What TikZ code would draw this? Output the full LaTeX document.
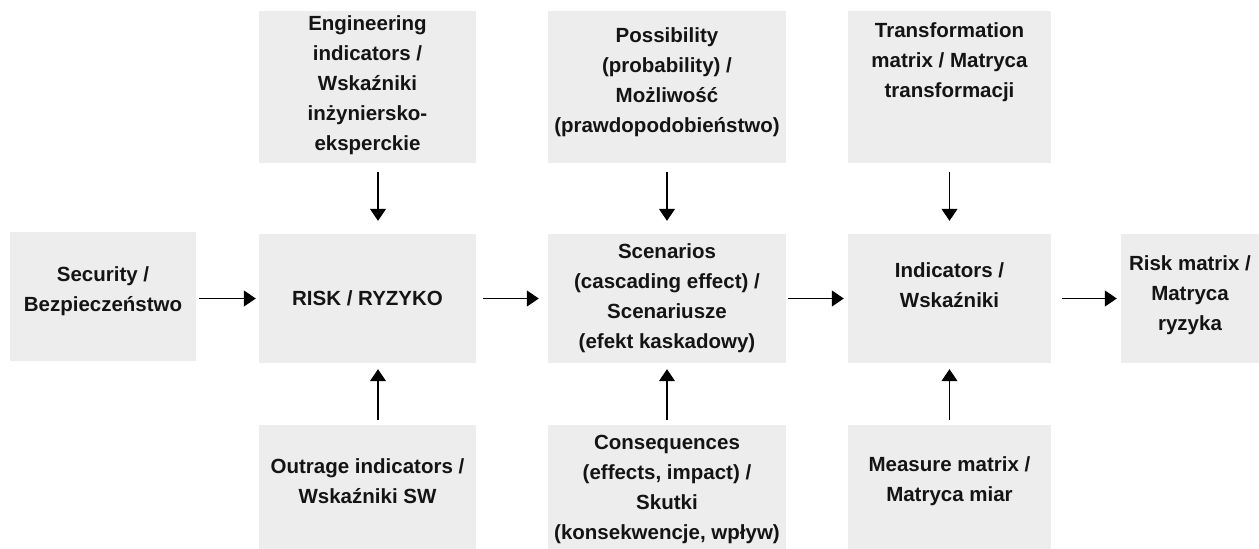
\documentclass[tikz,border=0pt]{standalone}
\usepackage{fontspec}
\setmainfont{Liberation Sans}
\usetikzlibrary{arrows.meta}
\definecolor{boxgray}{HTML}{EDEDED}
\definecolor{inkc}{HTML}{141414}
\tikzset{
  boxn/.style={fill=boxgray, draw=none, inner sep=0pt, rectangle},
  txt/.style={align=center, text=inkc, inner sep=0pt, font=\bfseries\fontsize{20.5}{30}\selectfont},
  arr/.style={-{Triangle[length=12pt,width=16pt]}, line width=1.1pt, draw=black}
}
\begin{document}
\begin{tikzpicture}[x=1pt,y=-1pt]
\useasboundingbox (0,0) rectangle (1259,549);
% boxes
\node[boxn, minimum width=186pt, minimum height=129pt] (sec) at (103,296.5) {};
\node[boxn, minimum width=217pt, minimum height=152pt] (eng) at (367.5,87) {};
\node[boxn, minimum width=217pt, minimum height=129pt] (risk) at (367.5,298.5) {};
\node[boxn, minimum width=217pt, minimum height=124pt] (out) at (367.5,487) {};
\node[boxn, minimum width=238pt, minimum height=152pt] (poss) at (667,87) {};
\node[boxn, minimum width=238pt, minimum height=129pt] (scen) at (667,298.5) {};
\node[boxn, minimum width=238pt, minimum height=124pt] (cons) at (667,487) {};
\node[boxn, minimum width=203pt, minimum height=152pt] (trans) at (949.5,87) {};
\node[boxn, minimum width=203pt, minimum height=129pt] (ind) at (949.5,298.5) {};
\node[boxn, minimum width=203pt, minimum height=124pt] (meas) at (949.5,487) {};
\node[boxn, minimum width=138pt, minimum height=129pt] (rm) at (1190,298.5) {};
% texts
\node[txt] (secT) at (103,291) {Security /\\Bezpieczeństwo};
\node[txt] (engT) at (367.5,85) {Engineering\\indicators /\\Wskaźniki\\inżyniersko-\\eksperckie};
\node[txt] (riskT) at (367.5,298) {RISK / RYZYKO};
\node[txt] (outT) at (367.5,481) {Outrage indicators /\\Wskaźniki SW};
\node[txt] (possT) at (667,82) {Possibility\\(probability) /\\Możliwość\\(prawdopodobieństwo)};
\node[txt] (scenT) at (667,298) {Scenarios\\(cascading effect) /\\Scenariusze\\(efekt kaskadowy)};
\node[txt] (consT) at (667,489) {Consequences\\(effects, impact) /\\Skutki\\(konsekwencje, wpływ)};
\node[txt] (transT) at (949.5,62) {Transformation\\matrix / Matryca\\transformacji};
\node[txt] (indT) at (949.5,285) {Indicators /\\Wskaźniki};
\node[txt] (measT) at (949.5,481) {Measure matrix /\\Matryca miar};
\node[txt] (rmT) at (1190,295) {Risk matrix /\\Matryca\\ryzyka};
% horizontal connectors
\draw[arr, shorten <=3pt, shorten >=3pt] (sec.east |- risk.east) -- (risk.west);
\draw[arr, shorten <=7pt, shorten >=9pt] (risk.east) -- (scen.west);
\draw[arr, shorten <=2pt, shorten >=4pt] (scen.east) -- (ind.west);
\draw[arr, shorten <=11pt, shorten >=4pt] (ind.east) -- (rm.west);
% vertical connectors
\draw[arr, shorten <=9pt, shorten >=13pt] ([xshift=10.5pt]eng.south) -- ([xshift=10.5pt]risk.north);
\draw[arr, shorten <=5pt, shorten >=6pt] ([xshift=10.5pt]out.north) -- ([xshift=10.5pt]risk.south);
\draw[arr, shorten <=9pt, shorten >=13pt] (poss.south) -- (scen.north);
\draw[arr, shorten <=5pt, shorten >=6pt] (cons.north) -- (scen.south);
\draw[arr, shorten <=9pt, shorten >=13pt] (trans.south) -- (ind.north);
\draw[arr, shorten <=5pt, shorten >=6pt] (meas.north) -- (ind.south);
\end{tikzpicture}
\end{document}
